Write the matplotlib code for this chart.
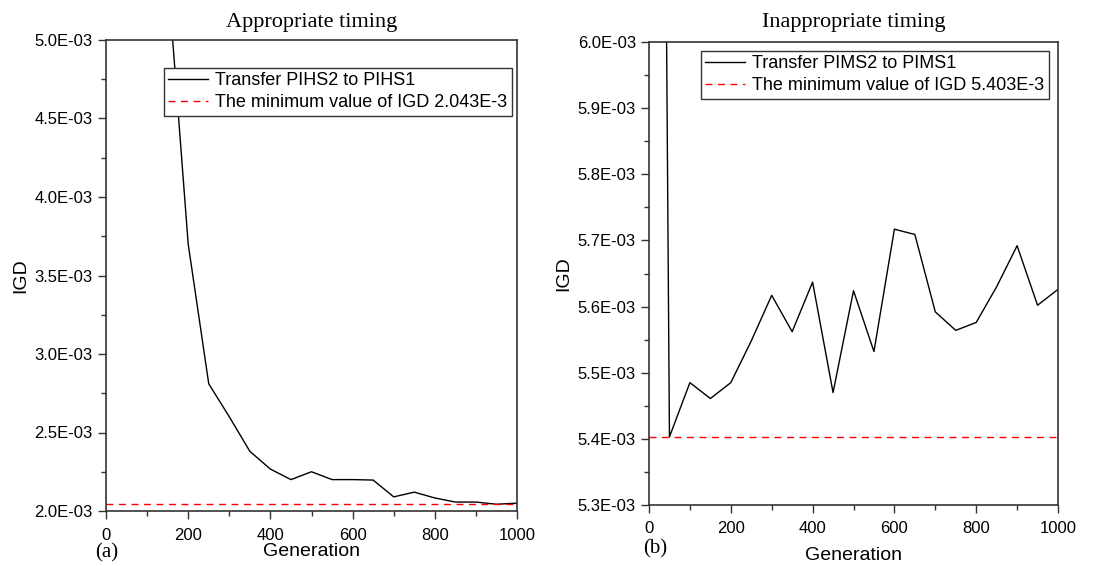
import matplotlib
matplotlib.use("Agg")
import matplotlib.pyplot as plt
from matplotlib.ticker import MultipleLocator, FuncFormatter

generations = [0, 50, 100, 150, 200, 250, 300, 350, 400, 450, 500,
               550, 600, 650, 700, 750, 800, 850, 900, 950, 1000]

igd_appropriate = [0.0200, 0.0120, 0.0080, 5.42e-3, 3.70e-3, 2.81e-3, 2.60e-3, 2.38e-3,
                   2.267e-3, 2.20e-3, 2.25e-3, 2.20e-3, 2.20e-3, 2.197e-3, 2.09e-3,
                   2.12e-3, 2.083e-3, 2.057e-3, 2.057e-3, 2.043e-3, 2.05e-3]

igd_inappropriate = [9.7e-3, 5.403e-3, 5.485e-3, 5.461e-3, 5.485e-3, 5.548e-3, 5.617e-3,
                     5.562e-3, 5.637e-3, 5.470e-3, 5.624e-3, 5.532e-3, 5.717e-3, 5.709e-3,
                     5.592e-3, 5.564e-3, 5.576e-3, 5.630e-3, 5.692e-3, 5.602e-3, 5.626e-3]

min_appropriate = 2.043e-3
min_inappropriate = 5.403e-3

titles = ["Appropriate timing", "Inappropriate timing"]
labels_line = ["Transfer PIHS2 to PIHS1", "Transfer PIMS2 to PIMS1"]
labels_min = ["The minimum value of IGD 2.043E-3", "The minimum value of IGD 5.403E-3"]
panel_tags = ["(a)", "(b)"]

sans = ["Liberation Sans", "DejaVu Sans"]
serif = ["Liberation Serif", "DejaVu Serif"]

fig = plt.figure(figsize=(11.17, 5.66), dpi=100)

ax_rects = [[106 / 1117, 1 - 511 / 566, 411 / 1117, 471 / 566],
            [649 / 1117, 1 - 505 / 566, 409 / 1117, 463 / 566]]
ylims = [(2.0e-3, 5.0e-3), (5.3e-3, 6.0e-3)]
ymaj = [0.5e-3, 0.1e-3]
ymin_loc = [0.25e-3, 0.05e-3]
series = [igd_appropriate, igd_inappropriate]
mins = [min_appropriate, min_inappropriate]
leg_anchor = [(0.988, 0.9406), (0.978, 0.9806)]
tag_pos = [(107 / 1117, 1 - 553 / 566), (655 / 1117, 1 - 549 / 566)]
title_pads = [9.5, 10.5]
xlabel_pads = [0, 8]
xtick_pads = [6, 5.5]

fmt = FuncFormatter(lambda v, p: "%.1E" % v)

for i in range(2):
    ax = fig.add_axes(ax_rects[i])
    ax.plot(generations, series[i], color="black", lw=1.0, label=labels_line[i])
    ax.axhline(mins[i], color="red", lw=1.0, ls=(0, (5, 4)), label=labels_min[i])
    ax.set_xlim(0, 1000)
    ax.set_ylim(*ylims[i])
    ax.xaxis.set_major_locator(MultipleLocator(200))
    ax.xaxis.set_minor_locator(MultipleLocator(100))
    ax.yaxis.set_major_locator(MultipleLocator(ymaj[i]))
    ax.yaxis.set_minor_locator(MultipleLocator(ymin_loc[i]))
    ax.yaxis.set_major_formatter(fmt)
    ax.tick_params(which="both", direction="out", top=False, right=False,
                   width=1.0, color="#333333")
    ax.tick_params(which="major", length=6, labelsize=12)
    ax.tick_params(which="minor", length=3.5)
    ax.tick_params(axis="x", which="major", pad=xtick_pads[i])
    for lab in ax.get_xticklabels() + ax.get_yticklabels():
        lab.set_family(sans)
    for sp in ax.spines.values():
        sp.set_linewidth(1.2)
        sp.set_color("#333333")
    ax.set_xlabel("Generation", fontsize=14, family=sans, labelpad=xlabel_pads[i])
    ax.set_ylabel("IGD", fontsize=14, family=sans, labelpad=4)
    ax.set_title(titles[i], fontsize=16, family=serif, pad=title_pads[i])
    leg = ax.legend(loc="upper right", bbox_to_anchor=leg_anchor[i],
                    prop={"family": sans, "size": 13}, frameon=True, fancybox=False,
                    edgecolor="#333333", framealpha=1, handlelength=2.2,
                    handletextpad=0.4, borderpad=0.25, labelspacing=0.25,
                    borderaxespad=0)
    leg.get_frame().set_linewidth(1.0)
    fig.text(tag_pos[i][0], tag_pos[i][1], panel_tags[i], fontsize=15, family=serif,
             ha="center", va="center")

fig.savefig("out.png", dpi=100)
